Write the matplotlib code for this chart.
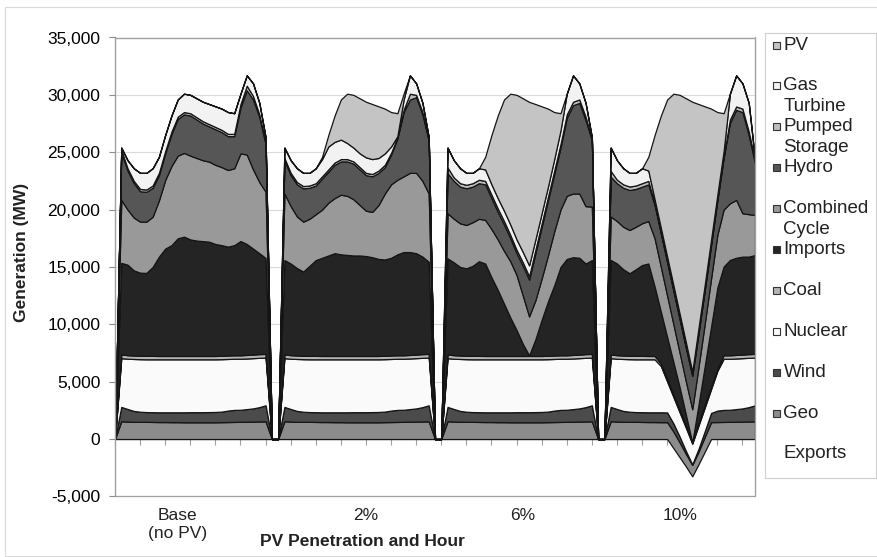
import matplotlib
matplotlib.use("Agg")
import matplotlib.pyplot as plt
import numpy as np
from matplotlib.patches import Rectangle

plt.rcParams["font.family"] = ["Liberation Sans", "DejaVu Sans"]

W, H = 877, 557

# one 24-hour day per scenario, hour 1..24
SCENARIOS = ["Base\n(no PV)", "2%", "6%", "10%"]

GEO_DAY = [1550, 1520, 1500, 1500, 1500, 1490, 1480, 1480, 1470, 1470, 1460, 1460,
           1460, 1460, 1460, 1460, 1470, 1480, 1490, 1500, 1510, 1520, 1530, 1540]
GEO_10 = [1550, 1520, 1500, 1500, 1500, 1490, 1480, 1480, 1470, 1470, 1460, 1300,
          1100, 1000, 1100, 1300, 1470, 1480, 1490, 1500, 1510, 1520, 1530, 1540]
WIND_DAY = [1250, 1100, 950, 880, 850, 850, 850, 850, 860, 860, 870, 880,
            880, 880, 890, 900, 920, 1000, 1050, 1050, 1100, 1150, 1250, 1400]
WIND_10 = [1250, 1100, 950, 880, 850, 850, 850, 850, 860, 850, 700, 500,
           250, 50, 250, 500, 800, 1000, 1050, 1050, 1100, 1150, 1250, 1400]
NUCLEAR_DAY = [4250, 4380, 4530, 4580, 4600, 4610, 4620, 4620, 4620, 4620, 4620, 4610,
               4610, 4610, 4600, 4590, 4570, 4500, 4460, 4450, 4410, 4380, 4300, 4160]
NUCLEAR_10 = [4250, 4380, 4530, 4580, 4600, 4610, 4620, 4620, 4040, 2700, 2310, 2120,
              2020, 1800, 2040, 2070, 2090, 3460, 4460, 4450, 4410, 4380, 4300, 4160]
COAL_DAY = [320, 310, 300, 300, 300, 300, 290, 290, 290, 290, 290, 290,
            290, 290, 290, 290, 300, 300, 300, 300, 310, 310, 320, 320]
COAL_10 = [320, 310, 300, 300, 300, 300, 290, 290, 200, 200, 200, 200,
           200, 100, 200, 200, 200, 200, 300, 300, 310, 310, 320, 320]
NO_EXPORTS = [0] * 24
EXPORTS_10 = [0, 0, 0, 0, 0, 0, 0, 0, 0, 0, -800, -1600,
              -2400, -3250, -2200, -1100, 0, 0, 0, 0, 0, 0, 0, 0]

exports = [NO_EXPORTS, NO_EXPORTS, NO_EXPORTS, EXPORTS_10]
geo = [GEO_DAY, GEO_DAY, GEO_DAY, GEO_10]
wind = [WIND_DAY, WIND_DAY, WIND_DAY, WIND_10]
nuclear = [NUCLEAR_DAY, NUCLEAR_DAY, NUCLEAR_DAY, NUCLEAR_10]
coal = [COAL_DAY, COAL_DAY, COAL_DAY, COAL_10]

imports = [
    [7980, 7890, 7420, 7240, 7230, 7750, 8660, 9360, 9660, 10260, 10400, 10160,
     10060, 10010, 9960, 9760, 9640, 9490, 9600, 9960, 9670, 9240, 8800, 8360],
    [8230, 7990, 7620, 7340, 7850, 8350, 8560, 8760, 8960, 8860, 8810, 8760,
     8760, 8710, 8610, 8460, 8390, 8520, 8800, 9000, 8970, 8840, 8500, 8030],
    [8380, 8090, 7720, 7620, 7850, 8250, 8060, 6860, 5760, 4560, 3360, 2260,
     1060, 50, 1460, 3160, 4740, 6120, 7700, 8400, 8520, 8440, 7900, 8180],
    [8240, 7990, 7520, 7190, 7550, 7920, 8060, 6060, 4530, 3680, 2830, 1980,
     930, 0, 1610, 3430, 5240, 7060, 7730, 8310, 8470, 8540, 8500, 8620],
]
combined_cycle = [
    [5490, 4800, 4600, 4450, 4470, 4380, 4900, 5980, 6900, 7200, 7300, 7300,
     7200, 7050, 6980, 6900, 6800, 6680, 6700, 7640, 7800, 6900, 6200, 5780],
    [5800, 5000, 4500, 4350, 4100, 4000, 4200, 4600, 4800, 5200, 5150, 4900,
     4400, 3950, 3950, 4700, 5750, 6400, 6500, 6600, 6900, 7000, 6600, 5950],
    [3930, 3800, 3800, 3780, 3800, 3700, 3800, 4200, 4400, 4600, 4900, 4800,
     4200, 3400, 3400, 3600, 4000, 4700, 5000, 5500, 5550, 5600, 5000, 4660],
    [3780, 3700, 3700, 3770, 3700, 3640, 3700, 4200, 3900, 3600, 3300, 3000,
     2900, 2900, 3300, 3700, 4200, 4600, 4970, 4940, 5040, 3780, 3700, 3490],
]
hydro = [
    [4160, 3400, 3000, 2650, 2600, 2520, 2200, 2320, 2800, 3200, 3360, 3500,
     3350, 3200, 3070, 3100, 3050, 2950, 2800, 4000, 5600, 6100, 5700, 4140],
    [2900, 2700, 2800, 2900, 2700, 2500, 2700, 2700, 2900, 2900, 3000, 3100,
     3100, 3100, 3100, 2800, 2300, 2600, 3600, 5600, 6400, 6600, 5800, 4600],
    [3490, 3300, 3200, 3200, 3100, 3100, 3100, 2700, 2400, 2300, 2000, 1900,
     2600, 3200, 4100, 4500, 4800, 5000, 5400, 6800, 7700, 7900, 7500, 5800],
    [3480, 3300, 3400, 3490, 3300, 3190, 3200, 2900, 2900, 2900, 2900, 2900,
     2900, 2900, 2900, 2900, 2900, 3000, 4500, 7000, 7850, 8820, 6900, 4510],
]
pumped_storage = [
    [200, 200, 200, 200, 200, 200, 200, 200, 200, 200, 200, 200,
     200, 200, 200, 200, 200, 200, 200, 300, 400, 300, 200, 200],
    [200, 200, 200, 200, 200, 200, 200, 200, 200, 200, 200, 200,
     200, 200, 200, 200, 200, 150, 100, 200, 500, 200, 200, 100],
    [500, 300, 300, 300, 300, 300, 300, 300, 300, 300, 300, 300,
     300, 300, 300, 300, 300, 300, 300, 300, 300, 300, 300, 100],
    [500, 300, 300, 300, 300, 300, 300, 150, 150, 150, 150, 150,
     150, 150, 150, 150, 150, 150, 150, 300, 300, 300, 300, 300],
]
gas_turbine = [
    [200, 700, 1100, 1400, 1450, 1500, 1400, 1400, 1400, 1500, 1600, 1600,
     1650, 1700, 1750, 1800, 1850, 1900, 1800, 900, 900, 1100, 1000, 400],
    [900, 1100, 1200, 1150, 1100, 1300, 1500, 2000, 1800, 1700, 1400, 1200,
     1200, 1350, 1300, 1100, 1000, 550, 100, 900, 1600, 1000, 800, 200],
    [1730, 1500, 1300, 1040, 900, 1000, 1000, 900, 900, 900, 900, 900,
     900, 950, 900, 900, 900, 1000, 1200, 1800, 2300, 1400, 1200, 130],
    [2030, 1700, 1400, 1190, 1100, 1300, 900, 350, 350, 350, 350, 350,
     350, 220, 350, 350, 350, 350, 450, 2250, 2710, 2200, 2500, 0],
]
pv = [
    [0] * 24,
    [0, 0, 0, 0, 0, 0, 200, 1000, 2300, 3500, 4300, 4600,
     4800, 4850, 4800, 4500, 3900, 3000, 2000, 500, 0, 0, 0, 0],
    [0, 0, 0, 0, 0, 0, 1100, 4300, 7200, 9700, 11400, 12600,
     13400, 14250, 11800, 9300, 6800, 4100, 1500, 0, 0, 0, 0, 0],
    [0, 0, 0, 0, 0, 0, 1200, 5600, 9800, 13700, 16700, 19100,
     21300, 23530, 19500, 15500, 11400, 7200, 3300, 0, 0, 0, 0, 0],
]

# bottom of the stack first; None = no fill
SERIES = [
    ("Exports", exports, None),
    ("Geo", geo, "#8c8c8c"),
    ("Wind", wind, "#4b4b4b"),
    ("Nuclear", nuclear, "#fafafa"),
    ("Coal", coal, "#b4b4b4"),
    ("Imports", imports, "#242424"),
    ("Combined\nCycle", combined_cycle, "#999999"),
    ("Hydro", hydro, "#565656"),
    ("Pumped\nStorage", pumped_storage, "#bdbdbd"),
    ("Gas\nTurbine", gas_turbine, "#f2f2f2"),
    ("PV", pv, "#c4c4c4"),
]


def track(days):
    """Days end to end, two empty hours between them, one empty hour at the start."""
    out = [0.0]
    for i, day in enumerate(days):
        out.extend(day)
        if i < len(days) - 1:
            out.extend([0.0, 0.0])
    return np.array(out, dtype=float)


def fx(px):
    return px / W


def fy(py):
    return 1 - py / H


def main():
    fig = plt.figure(figsize=(W / 100, H / 100), dpi=100)
    fig.patches.append(Rectangle((fx(5), fy(556)), fx(880), 549 / H,
                                 transform=fig.transFigure, fill=False,
                                 edgecolor="#d9d9d9", lw=0.8))

    ax = fig.add_axes([fx(115), fy(496.4), fx(640), (496.4 - 37.5) / H])
    ys = [track(s[1]) for s in SERIES]
    x = np.arange(len(ys[0]))
    colors = [c if c else "none" for _, _, c in SERIES]
    polys = ax.stackplot(x, *ys, colors=colors, edgecolor="#141414", linewidth=0.9, zorder=2)
    polys[0].set_facecolor("none")
    polys[0].set_linewidth(0)

    ax.set_xlim(0, len(x) - 1)
    ax.set_ylim(-5000, 35000)
    ax.set_yticks(range(-5000, 35001, 5000))
    ax.set_yticklabels([f"{v:,}" for v in range(-5000, 35001, 5000)], fontsize=12.5)
    ax.yaxis.grid(True, color="#dadada", lw=0.8)
    ax.set_axisbelow(True)
    ax.tick_params(axis="y", length=4, color="#8c8c8c", pad=6.5)

    ax.spines["bottom"].set_position(("data", 0))
    ax.spines["bottom"].set_color("#8c8c8c")
    ax.spines["bottom"].set_zorder(1)
    for side in ("top", "right"):
        ax.spines[side].set_color("#a0a0a0")
    ax.spines["left"].set_color("#8c8c8c")
    ax.add_patch(Rectangle((0, 0), 1, 1, transform=ax.transAxes, fill=False,
                           edgecolor="#a0a0a0", lw=0.9, zorder=5, clip_on=False))
    ax.set_xticks(range(0, len(x), 4))
    ax.set_xticklabels([])
    ax.tick_params(axis="x", length=4, color="#a0a0a0", direction="out")

    for pos, name in zip([10, 40, 65, 90], SCENARIOS):
        ax.text(pos, -6000, name, ha="center", va="top", fontsize=12.5,
                linespacing=1.25, color="#222222")

    fig.text(fx(362), fy(541), "PV Penetration and Hour", ha="center", va="center",
             fontsize=12.5, fontweight="bold", color="#222222")
    fig.text(fx(22), fy(252), "Generation (MW)", ha="center", va="center",
             rotation=90, fontsize=12.5, fontweight="bold", color="#222222")

    # legend box, top entry first
    fig.patches.append(Rectangle((fx(765), fy(478)), fx(111), (478 - 33) / H,
                                 transform=fig.transFigure, fill=False,
                                 edgecolor="#cfcfcf", lw=0.8))
    for i, (name, _, color) in enumerate(reversed(SERIES)):
        yc = 45 + i * 40.9
        if color:
            fig.patches.append(Rectangle((fx(773), fy(yc + 3.5)), fx(7), 7 / H,
                                         transform=fig.transFigure, facecolor=color,
                                         edgecolor="#333333", lw=0.8))
        for j, line in enumerate(name.split("\n")):
            fig.text(fx(783.5), fy(yc + j * 20.5), line, ha="left", va="center",
                     fontsize=13.5, color="#222222")

    fig.savefig("out.png", dpi=100)
    plt.close(fig)


if __name__ == "__main__":
    main()
